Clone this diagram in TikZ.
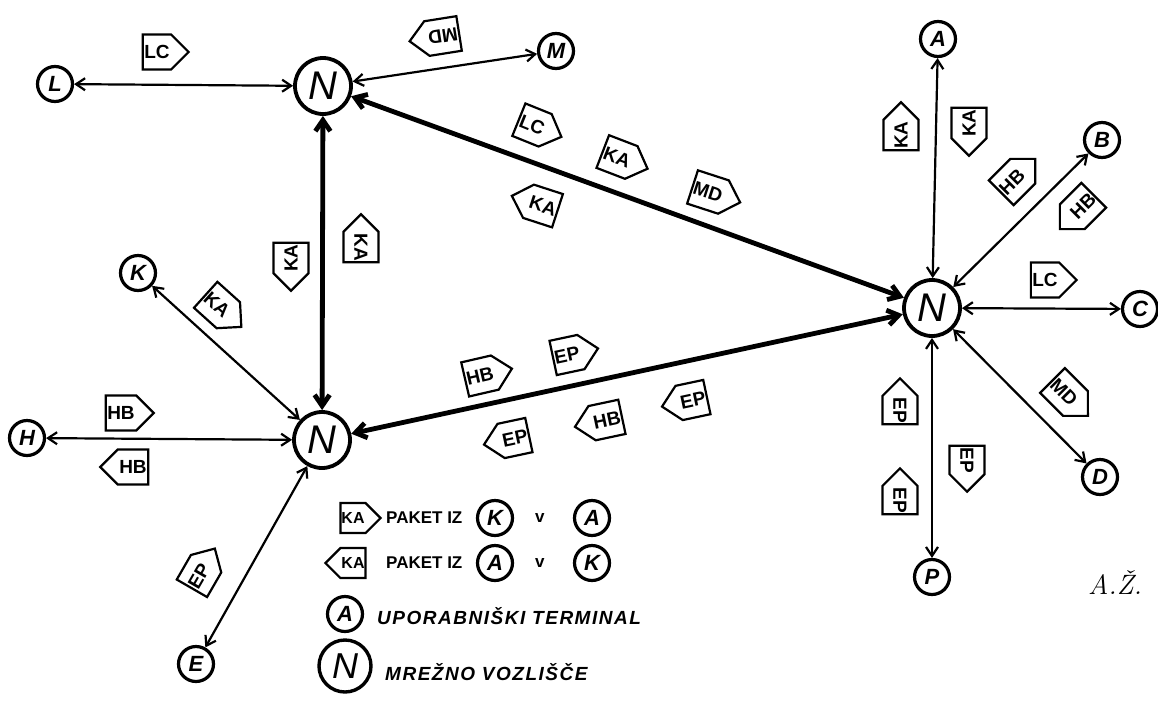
\documentclass[tikz,border=0pt]{standalone}
\usepackage{fontspec}
\newfontfamily\hand{Liberation Sans}
\newfontfamily\handsp[LetterSpace=8.0]{Liberation Sans}
\usetikzlibrary{shapes.symbols,arrows.meta}
\begin{document}
\begin{tikzpicture}[x=1pt,y=-1pt,
  term/.style={circle,draw,line width=3.2pt,minimum size=35pt,inner sep=0pt,font=\hand\bfseries\itshape\fontsize{22}{22}\selectfont},
  hub/.style={circle,draw,line width=3.8pt,minimum size=56pt,inner sep=0pt,font=\hand\itshape\fontsize{40}{40}\selectfont},
  lhub/.style={circle,draw,line width=3.4pt,minimum size=52pt,inner sep=0pt,font=\hand\itshape\fontsize{36}{36}\selectfont},
  tagE/.style={shape=signal,signal to=east,signal pointer angle=90,draw,line width=2.2pt,inner xsep=1.5pt,inner ysep=2pt,minimum height=35pt,font=\hand\bfseries\fontsize{19}{19}\selectfont},
  tagW/.style={tagE,signal to=west},
  ltag/.style={minimum height=30pt,inner xsep=1pt,font=\hand\bfseries\fontsize{16}{16}\selectfont},
  lnk/.style={{Straight Barb[length=9pt,width=12pt]}-{Straight Barb[length=9pt,width=12pt]},line width=2.2pt},
  trunk/.style={{Straight Barb[length=11pt,width=15pt]}-{Straight Barb[length=11pt,width=15pt]},line width=4.8pt},
  legtxt/.style={anchor=west,inner sep=0pt,font=\hand\bfseries\fontsize{17}{17}\selectfont},
  legit/.style={anchor=west,inner sep=0pt,font=\handsp\bfseries\itshape\fontsize{19}{19}\selectfont}
]
\useasboundingbox (0,0) rectangle (1158,702);

% network nodes
\node[hub] (N1) at (323,86) {N};
\node[hub] (N2) at (322,440) {N};
\node[hub] (N3) at (932,308) {N};

% terminals
\node[term] (L) at (55,84) {L};
\node[term] (M) at (556,51) {M};
\node[term] (K) at (138,273) {K};
\node[term] (H) at (27,438) {H};
\node[term] (E) at (196,664) {E};
\node[term] (A) at (938,39) {A};
\node[term] (B) at (1102,140) {B};
\node[term] (C) at (1140,309) {C};
\node[term] (D) at (1100,477) {D};
\node[term] (P) at (932,577) {P};

% connectors
\draw[trunk] (N1) -- (N2);
\draw[trunk] (N1) -- (N3);
\draw[trunk] (N2) -- (N3);
\draw[lnk] (L) -- (N1);
\draw[lnk] (N1) -- (M);
\draw[lnk] (K) -- (N2);
\draw[lnk] (H) -- (N2);
\draw[lnk] (E) -- (N2);
\draw[lnk] (A) -- (N3);
\draw[lnk] (B) -- (N3);
\draw[lnk] (C) -- (N3);
\draw[lnk] (D) -- (N3);
\draw[lnk] (P) -- (N3);

% packet tags
\node[tagE] (t1) at (157,52) {LC};
\node[tagE,rotate=189] (t2) at (443,36) {MD};
\node[tagE,rotate=-22] (t3) at (532,125) {LC};
\node[tagE,rotate=-21] (t4) at (617,157) {KA};
\node[tagE,rotate=-18] (t5) at (708,192) {MD};
\node[tagW,rotate=-18] (t6) at (543,206) {KA};
\node[tagW,rotate=90] (t7) at (291,258) {KA};
\node[tagW,rotate=-90] (t8) at (361,247) {KA};
\node[tagE,rotate=-42] (t9) at (217,305) {KA};
\node[tagE] (t10) at (121,413) {HB};
\node[tagW] (t11) at (133,467) {HB};
\node[tagE,rotate=60] (t12) at (199,576) {EP};
\node[tagE,rotate=13] (t13) at (480,376) {HB};
\node[tagE,rotate=12] (t14) at (567,355) {EP};
\node[tagW,rotate=12] (t15) at (515,438) {EP};
\node[tagW,rotate=12] (t16) at (607,420) {HB};
\node[tagW,rotate=12] (t17) at (693,400) {EP};
\node[tagE,rotate=90] (t18) at (901,135) {KA};
\node[tagW,rotate=90] (t19) at (969,123) {KA};
\node[tagE,rotate=45] (t20) at (1012,182) {HB};
\node[tagW,rotate=45] (t21) at (1083,206) {HB};
\node[tagE] (t22) at (1045,280) {LC};
\node[tagE,rotate=-45] (t23) at (1064,392) {MD};
\node[tagW,rotate=-90] (t24) at (900,410) {EP};
\node[tagW,rotate=-90] (t25) at (900,500) {EP};
\node[tagE,rotate=-90] (t26) at (967,460) {EP};

% legend
\node[tagE,ltag] (lg1) at (353,518) {KA};
\node[legtxt] (lg1t) at (386,518) {PAKET IZ};
\node[term] (lg1k) at (495,518) {K};
\node[legtxt] (lg1v) at (535,518) {v};
\node[term] (lg1a) at (592,518) {A};
\node[tagW,ltag] (lg2) at (353,563) {KA};
\node[legtxt] (lg2t) at (386,563) {PAKET IZ};
\node[term] (lg2a) at (495,563) {A};
\node[legtxt] (lg2v) at (535,563) {v};
\node[term] (lg2k) at (592,563) {K};
\node[term] (lg3a) at (345,614) {A};
\node[legit] (lg3t) at (377,616) {UPORABNIŠKI TERMINAL};
\node[lhub] (lg4n) at (345,666) {N};
\node[legit] (lg4t) at (385,672) {MREŽNO VOZLIŠČE};

% signature
\node[font=\itshape\fontsize{28}{28}\selectfont] (sig) at (1115,582) {A.Ž.};
\end{tikzpicture}
\end{document}
